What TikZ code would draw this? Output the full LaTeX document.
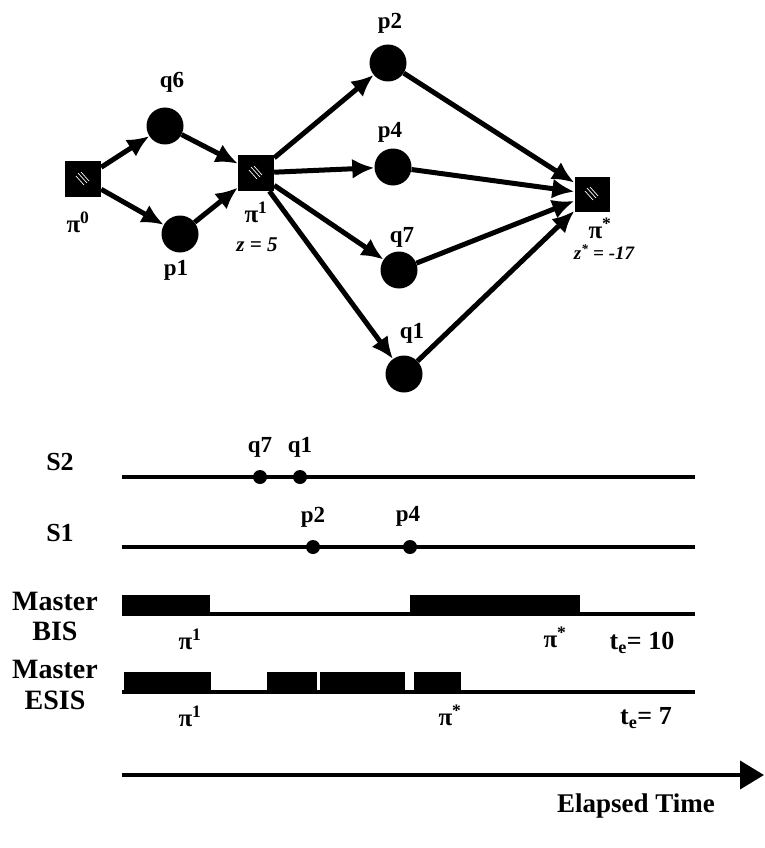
\documentclass[tikz,border=0pt]{standalone}
\usepackage{fontspec}
\setmainfont{Liberation Serif}
\usetikzlibrary{arrows.meta}
\begin{document}
\begin{tikzpicture}[x=1pt,y=-1pt,
  sq/.style={rectangle, fill=black, minimum size=36pt, inner sep=0pt,
    path picture={
      \draw[white, line width=0.7pt]
        ([shift={(-5pt,6pt)}]path picture bounding box.center) -- ([shift={(4pt,-4pt)}]path picture bounding box.center)
        ([shift={(-2pt,7pt)}]path picture bounding box.center) -- ([shift={(6pt,-2pt)}]path picture bounding box.center)
        ([shift={(-7pt,3pt)}]path picture bounding box.center) -- ([shift={(1pt,-6pt)}]path picture bounding box.center);}},
  cnode/.style={circle, fill=black, minimum size=37pt, inner sep=0pt},
  edge/.style={line width=5pt, -{Latex[length=22pt,width=20pt]}},
  lbl/.style={font=\fontsize{23}{23}\selectfont\bfseries, inner sep=0pt},
  pil/.style={font=\fontsize{25}{25}\selectfont\bfseries, inner sep=0pt},
  zl/.style={font=\fontsize{21}{21}\selectfont\bfseries\itshape, inner sep=0pt},
  tlab/.style={font=\fontsize{26}{26}\selectfont\bfseries, inner sep=0pt},
  mlab/.style={font=\fontsize{28}{28}\selectfont\bfseries, inner sep=0pt},
  tl/.style={line width=4pt},
  dot/.style={circle, fill=black, minimum size=14pt, inner sep=0pt}
]
\useasboundingbox (0,0) rectangle (764,848);

% ---------- graph ----------
\node[sq] (pi0) at (83,179) {};
\node[cnode] (q6) at (165,126) {};
\node[cnode] (p1) at (180,234) {};
\node[sq] (pi1) at (256,173) {};
\node[cnode] (p2) at (388,63) {};
\node[cnode] (p4) at (393,167) {};
\node[cnode] (q7) at (399,270) {};
\node[cnode] (q1) at (404,374) {};
\node[sq, minimum size=35pt] (pis) at (592,194) {};

\draw[edge] (pi0) -- (q6);
\draw[edge] (pi0) -- (p1);
\draw[edge] (q6) -- (pi1);
\draw[edge] (p1) -- (pi1);
\draw[edge] (pi1) -- (p2);
\draw[edge] (pi1) -- (p4);
\draw[edge] (pi1) -- (q7);
\draw[edge] (pi1) -- (q1);
\draw[edge] (p2) -- (pis);
\draw[edge] (p4) -- (pis);
\draw[edge] (q7) -- (pis);
\draw[edge] (q1) -- (pis);

\node[lbl] (lq6) at (172,82) {q6};
\node[lbl] (lp1) at (176,270) {p1};
\node[pil] (lpi0) at (78,222) {π\textsuperscript{0}};
\node[pil] (lpi1) at (256,212) {π\textsuperscript{1}};
\node[zl] (lz) at (257,245) {z = 5};
\node[lbl] (lp2) at (390,23) {p2};
\node[lbl] (lp4) at (390,132) {p4};
\node[lbl] (lq7) at (402,237) {q7};
\node[lbl] (lq1) at (412,333) {q1};
\node[pil] (lpis) at (600,228) {π\textsuperscript{*}};
\node[zl, font=\fontsize{19}{19}\selectfont\bfseries\itshape] (lzs) at (604,252) {z\textsuperscript{*} = -17};

% ---------- timelines ----------
\node[tlab] (s2) at (60,462) {S2};
\draw[tl] (122,477) -- (695,477);
\node[dot] (tq7) at (260,477) {};
\node[dot] (tq1) at (300,477) {};
\node[lbl] at (260,447) {q7};
\node[lbl] at (300,447) {q1};

\node[tlab] (s1) at (60,533) {S1};
\draw[tl] (122,547) -- (695,547);
\node[dot] (tp2) at (313,547) {};
\node[dot] (tp4) at (410,547) {};
\node[lbl] at (313,517) {p2};
\node[lbl] at (408,516) {p4};

\node[mlab] (mbis1) at (55,601) {Master};
\node[mlab] (mbis2) at (55,631) {BIS};
\draw[tl] (122,614) -- (695,614);
\fill (122,595) rectangle (210,615);
\fill (410,595) rectangle (580,615);
\node[pil] at (190,639) {π\textsuperscript{1}};
\node[pil] at (555,637) {π\textsuperscript{*}};
\node[tlab] at (642,643) {t\textsubscript{e}= 10};

\node[mlab] (mesis1) at (55,669) {Master};
\node[mlab] (mesis2) at (55,700) {ESIS};
\draw[tl] (122,692) -- (695,692);
\fill (124,672) rectangle (211,693);
\fill (267,672) rectangle (317,693);
\fill (320,672) rectangle (405,693);
\fill (414,672) rectangle (461,693);
\node[pil] at (190,716) {π\textsuperscript{1}};
\node[pil] at (450,715) {π\textsuperscript{*}};
\node[tlab] at (646,718) {t\textsubscript{e}= 7};

\coordinate (t0) at (122,775);
\coordinate (t1) at (764,775);
\draw[line width=4pt, -{Triangle[length=24pt,width=28pt]}] (t0) -- (t1);
\node[font=\fontsize{27}{27}\selectfont\bfseries, inner sep=0pt] at (636,806) {Elapsed Time};
\end{tikzpicture}
\end{document}
